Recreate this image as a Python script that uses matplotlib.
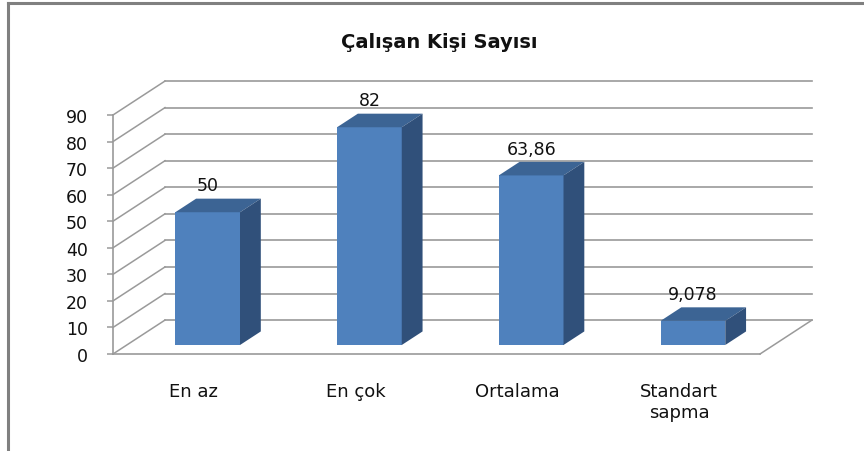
import matplotlib
matplotlib.use('Agg')
import matplotlib.pyplot as plt
from matplotlib.patches import Polygon
from matplotlib.lines import Line2D

# veriler
categories = ['En az', 'En çok', 'Ortalama', 'Standart\nsapma']
values = [50, 82, 63.86, 9.078]
value_labels = ['50', '82', '63,86', '9,078']
y_ticks = [0, 10, 20, 30, 40, 50, 60, 70, 80, 90]
title = 'Çalışan Kişi Sayısı'

# 3B görünüm ayarları (veri birimleri)
DX, DY = 0.3215, 12.78      # tam derinlik kayması
T0, T1 = 0.265, 0.665       # çubuk ön / arka derinliği
BAR_W = 0.40
FRONT = '#4F81BD'
TOP = '#3C6494'
SIDE = '#30507A'
GRID = '#9a9a9a'

W, H = 864, 452
fig = plt.figure(figsize=(W / 100, H / 100), dpi=100)

# dış çerçeve (üst ve sol)
fig.add_artist(Line2D([8 / W, 8 / W], [0, 1 - 4 / H], transform=fig.transFigure,
                      color='#808080', lw=2.2))
fig.add_artist(Line2D([8 / W, 1], [1 - 4 / H, 1 - 4 / H], transform=fig.transFigure,
                      color='#808080', lw=2.2))

ax = fig.add_axes([113 / W, 1 - 355 / H, (760 - 113) / W, (355 - 116) / H])
ax.set_xlim(-0.5, 3.5)
ax.set_ylim(0, 90)
ax.patch.set_visible(False)
for s in ['top', 'right']:
    ax.spines[s].set_visible(False)
for s in ['left', 'bottom']:
    ax.spines[s].set_color(GRID)
    ax.spines[s].set_linewidth(1.2)

x0, x1 = ax.get_xlim()

# sol duvar ve arka duvar ızgara çizgileri
for v in y_ticks:
    ax.plot([x0, x0 + DX], [v, v + DY], color=GRID, lw=1.1, clip_on=False, zorder=1)
    ax.plot([x0 + DX, x1 + DX], [v + DY, v + DY], color=GRID, lw=1.2, clip_on=False, zorder=1)
# zemin sağ kenarı
ax.plot([x1, x1 + DX], [0, DY], color=GRID, lw=1.1, clip_on=False, zorder=1)

# çubuklar
bdx = (T1 - T0) * DX
bdy = (T1 - T0) * DY
base = T0 * DY
xs = [i + T0 * DX for i in range(len(values))]
ax.bar(xs, values, width=BAR_W, bottom=base, color=FRONT, zorder=3, clip_on=False)
for xc, v, lab in zip(xs, values, value_labels):
    xl, xr = xc - BAR_W / 2, xc + BAR_W / 2
    top = v + base
    ax.add_patch(Polygon([(xl, top), (xr, top), (xr + bdx, top + bdy), (xl + bdx, top + bdy)],
                         closed=True, facecolor=TOP, edgecolor='none', zorder=3, clip_on=False))
    ax.add_patch(Polygon([(xr, base), (xr, top), (xr + bdx, top + bdy), (xr + bdx, base + bdy)],
                         closed=True, facecolor=SIDE, edgecolor='none', zorder=3, clip_on=False))
    ax.text(xc, top + bdy + 5.0, lab, ha='center', va='center', fontsize=12.5,
            color='#111111', zorder=4, clip_on=False)

# eksenler
ax.set_yticks(y_ticks)
ax.set_yticklabels([str(t) for t in y_ticks])
ax.tick_params(axis='y', length=4, width=1.1, color=GRID, pad=14, labelsize=12.5,
               labelcolor='#111111')
ax.set_xticks(range(len(categories)))
ax.set_xticklabels(categories)
ax.tick_params(axis='x', length=0, pad=20, labelsize=13, labelcolor='#111111')

fig.text(439 / W, 1 - 42 / H, title, ha='center', va='center', fontsize=14,
         fontweight='bold', color='#111111')

fig.savefig('out.png', dpi=100)
